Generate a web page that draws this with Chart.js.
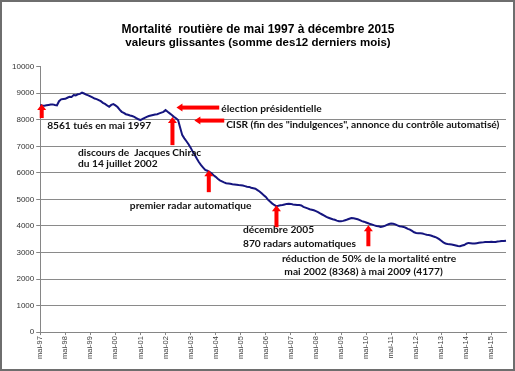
<!DOCTYPE html>
<html><head><meta charset="utf-8">
<script src="https://cdn.jsdelivr.net/npm/chart.js@4.4.1/dist/chart.umd.min.js"></script>
<style>html,body{margin:0;padding:0;background:#fff;}#wrap{width:515px;height:371px;position:relative;}</style>
</head><body><div id="wrap"><canvas id="c" width="515" height="371"></canvas></div>
<script>
const titleText = "Mortalité  routière de mai 1997 à décembre 2015";
const subtitleText = "valeurs glissantes (somme des12 derniers mois)";
const monthNames = ['janv','févr','mars','avr','mai','juin','juil','août','sept','oct','nov','déc'];
const startYear = 1997, startMonth = 4; // mai 1997
// Monthly rolling 12-month road deaths, May 1997 .. Dec 2015
const deaths = [
 8561,8540,8530,8545,8560,8575,8580,8560,8545,8700,8770,8780,
 8790,8830,8870,8860,8930,8920,8960,8975,9020,8990,8950,8920,
 8880,8840,8800,8780,8740,8700,8640,8600,8540,8490,8560,8590,
 8540,8480,8380,8300,8260,8210,8190,8160,8140,8110,8060,8020,
 7990,8030,8070,8110,8140,8160,8180,8200,8210,8240,8270,8300,
 8368,8300,8240,8180,8110,8060,7990,7700,7420,7300,7190,7080,
 6950,6800,6670,6530,6400,6290,6200,6110,6080,6040,5980,5910,
 5850,5780,5720,5680,5640,5610,5600,5590,5570,5560,5550,5540,
 5535,5520,5500,5480,5470,5440,5420,5400,5350,5300,5230,5160,
 5090,4990,4920,4850,4790,4745,4760,4780,4790,4810,4830,4840,
 4830,4810,4800,4790,4785,4770,4720,4690,4660,4630,4610,4590,
 4560,4520,4470,4430,4390,4340,4310,4280,4250,4230,4200,4180,
 4177,4190,4215,4240,4270,4300,4290,4270,4250,4220,4180,4160,
 4130,4100,4070,4050,4020,4000,3985,3965,3980,4000,4040,4070,
 4090,4080,4060,4020,3990,3975,3962,3930,3890,3860,3810,3760,
 3736,3725,3720,3713,3690,3670,3655,3640,3610,3585,3550,3500,
 3440,3380,3340,3320,3310,3300,3280,3260,3240,3235,3260,3280,
 3330,3360,3350,3340,3336,3350,3365,3374,3380,3390,3396,3390,
 3400,3396,3395,3410,3420,3434,3430,3440
];
const categories = deaths.map((v,i)=>{
  const m = (startMonth+i)%12, y = startYear + Math.floor((startMonth+i)/12);
  return monthNames[m] + '-' + String(y%100).padStart(2,'0');
});
const yTicks = [0,1000,2000,3000,4000,5000,6000,7000,8000,9000,10000];

// annotations in data coordinates (category index, value)
const upArrows = [
  {x:0.7, y0:8064, y1:8592},
  {x:63.3, y0:7045, y1:8102},
  {x:80.7, y0:5272, y1:6102},
  {x:113.1, y0:3951, y1:4781},
  {x:157.1, y0:3234, y1:4026}
];
const leftArrows = [
  {x0:85.7, x1:65.2, y:8460},
  {x0:88.1, x1:73.8, y:7970}
];
const notes = [
  {t:"8561 tués en mai 1997", x:3.3, y:7781},
  {t:"discours de  Jacques Chirac", x:18.1, y:6762},
  {t:"du 14 juillet 2002", x:18.1, y:6328},
  {t:"élection présidentielle", x:86.7, y:8404},
  {t:"CISR (fin des \"indulgences\", annonce du contrôle automatisé)", x:89, y:7800},
  {t:"premier radar automatique", x:42.9, y:4743},
  {t:"décembre 2005", x:97.1, y:3875},
  {t:"870 radars automatiques", x:97.1, y:3347},
  {t:"réduction de 50% de la mortalité entre", x:115.7, y:2781},
  {t:" mai 2002 (8368) à mai 2009 (4177)", x:115.7, y:2272}
];

const annot = {
  id:'annot',
  afterDatasetsDraw(chart){
    const {ctx, scales:{x, y}} = chart;
    ctx.save();
    ctx.fillStyle = '#ff0000';
    upArrows.forEach(a=>{
      const px = x.getPixelForValue(a.x), pb = y.getPixelForValue(a.y0), pt = y.getPixelForValue(a.y1);
      ctx.fillRect(px-2, pt+5, 4, pb-pt-5);
      ctx.beginPath(); ctx.moveTo(px, pt); ctx.lineTo(px-4.5, pt+6); ctx.lineTo(px+4.5, pt+6); ctx.closePath(); ctx.fill();
    });
    leftArrows.forEach(a=>{
      const p0 = x.getPixelForValue(a.x0), p1 = x.getPixelForValue(a.x1), py = y.getPixelForValue(a.y);
      ctx.fillRect(p1+5, py-2, p0-p1-5, 4);
      ctx.beginPath(); ctx.moveTo(p1, py); ctx.lineTo(p1+6, py-4); ctx.lineTo(p1+6, py+4); ctx.closePath(); ctx.fill();
    });
    ctx.fillStyle = '#111';
    ctx.font = 'bold 10.2px Lato';
    ctx.textBaseline = 'middle'; ctx.textAlign = 'left';
    notes.forEach(n=>{
      ctx.fillText(n.t, x.getPixelForValue(n.x), y.getPixelForValue(n.y));
    });
    ctx.restore();
  },
  afterDraw(chart){
    const ctx = chart.ctx;
    ctx.save();
    ctx.strokeStyle = '#6e6e6e'; ctx.lineWidth = 2;
    ctx.strokeRect(1,1,513,369);
    ctx.restore();
  }
};

new Chart(document.getElementById('c'), {
  type:'line',
  data:{labels:categories, datasets:[{data:deaths, borderColor:'#15157f', borderWidth:2, pointRadius:0, tension:0, fill:false}]},
  options:{
    responsive:false, animation:false,
    layout:{padding:{left:10, right:9, top:0, bottom:11}},
    plugins:{
      legend:{display:false}, tooltip:{enabled:false},
      title:{display:true, text:titleText, color:'#000', font:{family:'Liberation Sans', size:12, weight:'bold'}, padding:{top:22, bottom:0}},
      subtitle:{display:true, text:subtitleText, color:'#000', font:{family:'Liberation Sans', size:11.5, weight:'bold'}, padding:{top:0, bottom:16.5}}
    },
    scales:{
      x:{
        type:'category', offset:false,
        afterBuildTicks(s){ s.ticks = s.ticks.filter(t=>t.value%12===0); },
        ticks:{autoSkip:false, minRotation:90, maxRotation:90, padding:1, color:'#404040', font:{family:'Liberation Sans', size:7.5},
          callback(v){ return categories[v]; }},
        grid:{drawOnChartArea:false, tickLength:3, tickColor:'#868686'},
        border:{color:'#868686'}
      },
      y:{
        min:0, max:10000,
        afterBuildTicks(s){ s.ticks = yTicks.map(v=>({value:v})); },
        ticks:{padding:2, color:'#333', font:{family:'Liberation Sans', size:8}, callback(v){ return String(v); }},
        grid:{tickLength:4, tickColor:'#868686', color:(c)=> (c.tick && c.tick.value===10000) ? 'rgba(0,0,0,0)' : '#8a8a8a'},
        border:{color:'#868686'}
      }
    }
  },
  plugins:[annot]
});
</script></body></html>
